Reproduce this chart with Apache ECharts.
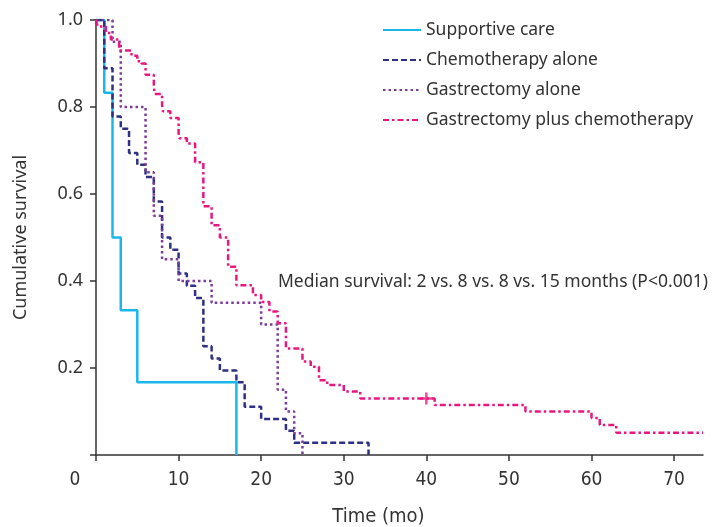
<!DOCTYPE html>
<html>
<head>
<meta charset="utf-8">
<script src="https://cdn.jsdelivr.net/npm/echarts@6/dist/echarts.min.js"></script>
<style>
  html, body { margin: 0; padding: 0; background: #fff; }
  #main { width: 720px; height: 527px; }
</style>
</head>
<body>
<div id="main"></div>
<script>
// survival curves, step points: [time of drop, survival after drop]
var supportiveTime = [0, 1, 2, 3, 5, 17];
var supportiveSurv = [1, 0.833, 0.5, 0.333, 0.167, 0];

var chemoTime = [0, 1, 2, 3, 4, 5, 6, 7, 8, 9, 10, 11, 12, 13, 14, 15, 17, 18, 20, 23, 24, 33];
var chemoSurv = [1, 0.889, 0.778, 0.75, 0.694, 0.667, 0.639, 0.583, 0.5, 0.472, 0.417, 0.389, 0.361, 0.25, 0.222, 0.194, 0.167, 0.111, 0.083, 0.056, 0.028, 0];

var gastTime = [0, 2, 3, 6, 7, 8, 10, 14, 20, 22, 23, 24, 25];
var gastSurv = [1, 0.95, 0.8, 0.65, 0.55, 0.45, 0.4, 0.35, 0.3, 0.15, 0.1, 0.05, 0];

var gastChemoTime = [0, 0.2, 1.2, 1.8, 2.8, 4.3, 5, 5.5, 6, 7, 7.1, 8, 8.1, 9, 10, 10.1, 11, 12, 13, 14, 15, 16, 17, 19, 20, 21, 22, 23, 25, 26, 27, 28, 30, 32, 41, 52, 60, 61, 63, 73.5];
var gastChemoSurv = [1, 0.985, 0.97, 0.955, 0.93, 0.918, 0.905, 0.9, 0.874, 0.85, 0.83, 0.805, 0.79, 0.775, 0.74, 0.728, 0.716, 0.673, 0.572, 0.528, 0.5, 0.433, 0.39, 0.368, 0.352, 0.33, 0.303, 0.245, 0.215, 0.203, 0.172, 0.161, 0.146, 0.13, 0.115, 0.1, 0.085, 0.069, 0.051, 0.051];

var censorTime = [40];
var censorSurv = [0.13];

var seriesNames = ['Supportive care', 'Chemotherapy alone', 'Gastrectomy alone', 'Gastrectomy plus chemotherapy'];
var xTicks = [0, 10, 20, 30, 40, 50, 60, 70];
var yTicks = [0.2, 0.4, 0.6, 0.8, 1.0];

function pairs(t, s) {
    return t.map(function (v, i) { return [v, s[i]]; });
}

var narrow = "'Liberation Sans Narrow', 'DejaVu Sans Condensed', 'Roboto', sans-serif";
var textFont = "'Noto Sans', 'Open Sans', sans-serif";

var chart = echarts.init(document.getElementById('main'));

function curve(name, t, s, color, dash) {
    return {
        name: name,
        type: 'line',
        step: 'end',
        symbol: 'none',
        silent: true,
        animation: false,
        lineStyle: { color: color, width: 2.5, type: dash },
        itemStyle: { color: color },
        data: pairs(t, s)
    };
}

chart.setOption({
    backgroundColor: '#fff',
    animation: false,
    grid: { left: 96, right: 17, top: 20, bottom: 72, outerBoundsMode: 'none', containLabel: false },
    legend: {
        data: seriesNames,
        orient: 'vertical',
        left: 382,
        top: 21,
        padding: 0,
        itemWidth: 38,
        itemHeight: 14,
        itemGap: 12,
        itemStyle: { opacity: 0 },
        textStyle: { fontFamily: textFont, fontSize: 17.5, color: '#333' }
    },
    xAxis: {
        type: 'value',
        min: 0,
        max: 73.5,
        interval: 10,
        name: 'Time (mo)',
        nameLocation: 'middle',
        nameGap: 52,
        nameTextStyle: { fontFamily: narrow, fontSize: 20, color: '#333', padding: [0, 42, 0, 0] },
        axisLine: { lineStyle: { color: '#333', width: 1.5 } },
        axisTick: { length: 6, lineStyle: { color: '#333', width: 1.5 } },
        splitLine: { show: false },
        axisLabel: {
            margin: 16,
            fontFamily: narrow,
            fontSize: 19,
            color: '#333',
            showMaxLabel: false,
            formatter: function (v) {
                if (xTicks.indexOf(v) < 0) return '';
                return v === 0 ? '{o|0}' : String(v);
            },
            rich: {
                o: { fontFamily: narrow, fontSize: 19, color: '#333', padding: [0, 42, 0, 0] }
            }
        }
    },
    yAxis: {
        type: 'value',
        min: 0,
        max: 1,
        interval: 0.2,
        name: 'Cumulative survival',
        nameLocation: 'middle',
        nameGap: 66,
        nameTextStyle: { fontFamily: textFont, fontSize: 18, color: '#333' },
        axisLine: { show: true, lineStyle: { color: '#333', width: 1.5 } },
        axisTick: { show: true, length: 6, lineStyle: { color: '#333', width: 1.5 } },
        splitLine: { show: false },
        axisLabel: {
            margin: 13,
            fontFamily: textFont,
            fontSize: 18,
            color: '#333',
            formatter: function (v) {
                var hit = yTicks.some(function (y) { return Math.abs(y - v) < 1e-6; });
                return hit ? v.toFixed(1) : '';
            }
        }
    },
    graphic: [{
        type: 'text',
        left: 278,
        top: 273,
        style: {
            text: 'Median survival: 2 vs. 8 vs. 8 vs. 15 months (P<0.001)',
            fontFamily: textFont,
            fontSize: 17.5,
            fill: '#333'
        }
    }],
    series: [
        curve(seriesNames[0], supportiveTime, supportiveSurv, '#1bb7ea', 'solid'),
        curve(seriesNames[1], chemoTime, chemoSurv, '#2e3182', [6, 3]),
        curve(seriesNames[2], gastTime, gastSurv, '#7b3d97', [2.5, 3]),
        curve(seriesNames[3], gastChemoTime, gastChemoSurv, '#e8177f', [6, 3, 2.5, 3]),
        {
            name: 'censored',
            type: 'scatter',
            silent: true,
            symbol: 'path://M4,0H6V4H10V6H6V10H4V6H0V4H4Z',
            symbolSize: 12,
            itemStyle: { color: '#e8177f' },
            data: pairs(censorTime, censorSurv)
        }
    ]
});
</script>
</body>
</html>
